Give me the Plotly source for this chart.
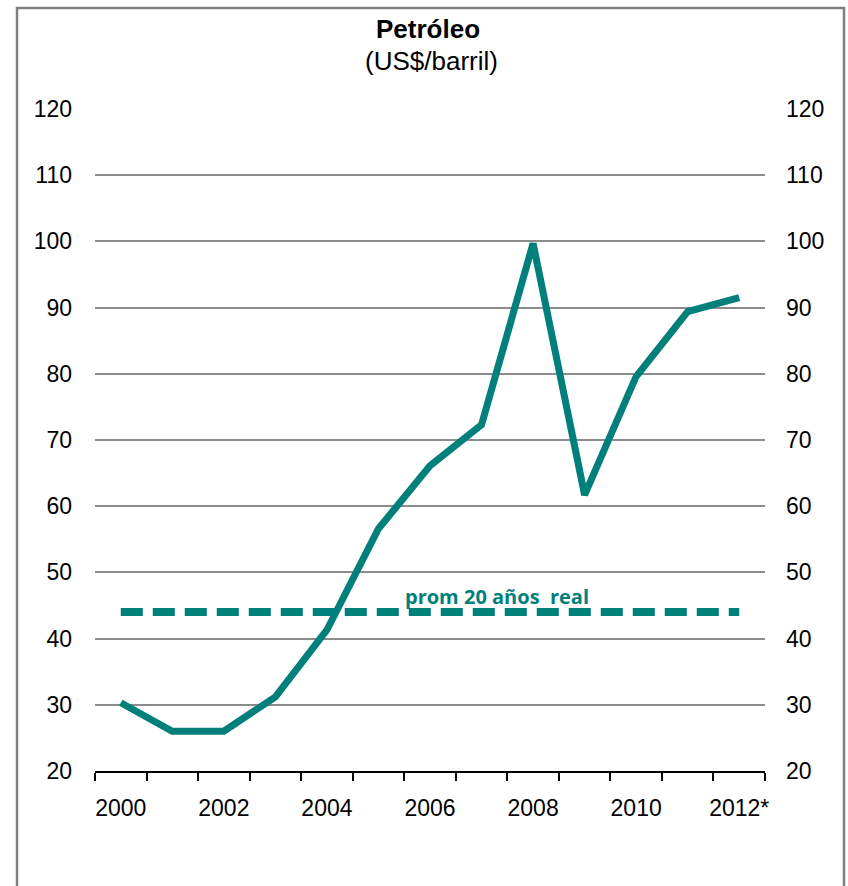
import plotly.graph_objects as go

years = ["2000", "2001", "2002", "2003", "2004", "2005", "2006",
         "2007", "2008", "2009", "2010", "2011", "2012*"]
precio = [30.3, 26.0, 26.0, 31.2, 41.3, 56.6, 66.1, 72.3, 99.7, 61.7, 79.6, 89.4, 91.5]
promedio_20 = [44.0] * len(years)
label_years = ["2000", "2002", "2004", "2006", "2008", "2010", "2012*"]
y_ticks = [20, 30, 40, 50, 60, 70, 80, 90, 100, 110, 120]

TEAL = "#007F7B"
idx = list(range(len(years)))

# plot area in page pixels
PL, PR, PT, PB = 95, 765, 109, 771
W, H = 848, 886


def py(pix):
    return (PB - pix) / (PB - PT)


def px(pix):
    return (pix - PL) / (PR - PL)


fig = go.Figure()
fig.add_trace(go.Scatter(
    x=idx, y=promedio_20, mode="lines", yaxis="y2",
    line=dict(color=TEAL, width=8, dash="22px,10px"),
    hoverinfo="skip", showlegend=False))
fig.add_trace(go.Scatter(
    x=idx, y=precio, mode="lines",
    line=dict(color=TEAL, width=7),
    showlegend=False))

tickfont = dict(family="Liberation Sans, Arial, sans-serif", size=23, color="#000")
titlefont = dict(family="Liberation Sans, Arial, sans-serif", size=26, color="#000")

fig.update_layout(
    width=W, height=H,
    margin=dict(l=PL, r=W - PR, t=PT, b=H - PB),
    paper_bgcolor="white", plot_bgcolor="white",
    xaxis=dict(
        range=[-0.5, len(years) - 0.5],
        tickvals=[years.index(l) for l in label_years],
        ticktext=label_years,
        ticks="", showgrid=False, zeroline=False,
        showline=True, linecolor="#000", linewidth=1.5,
        tickfont=tickfont, ticklabelstandoff=16,
        minor=dict(tickvals=[i - 0.5 for i in range(len(years) + 1)],
                   ticks="outside", ticklen=8, tickcolor="#000", tickwidth=1.5,
                   showgrid=False),
    ),
    yaxis=dict(
        range=[20, 120], tickvals=y_ticks,
        showgrid=True, gridcolor="#8c8c8c", gridwidth=1.5,
        zeroline=False, showline=False, ticks="",
        tickfont=tickfont, ticklabelstandoff=22,
    ),
    yaxis2=dict(
        range=[20, 120], tickvals=y_ticks, overlaying="y", side="right",
        showgrid=False, zeroline=False, showline=False, ticks="",
        tickfont=tickfont, ticklabelstandoff=20,
    ),
    annotations=[
        dict(x=px(428), y=py(29), xref="paper", yref="paper",
             text="<b>Petróleo</b>", showarrow=False, font=titlefont,
             xanchor="center", yanchor="middle"),
        dict(x=px(431), y=py(61), xref="paper", yref="paper",
             text="(US$/barril)", showarrow=False, font=titlefont,
             xanchor="center", yanchor="middle"),
        dict(x=7.3, y=46.3, xref="x", yref="y", text="<b>prom 20 años  real</b>",
             showarrow=False,
             font=dict(family="Open Sans, sans-serif", size=20, color=TEAL)),
    ],
    shapes=[dict(
        type="rect", xref="paper", yref="paper",
        x0=px(17), x1=px(844),
        y0=py(H + 20), y1=py(8),
        line=dict(color="#808080", width=2.5), fillcolor="rgba(0,0,0,0)", layer="below")],
)

fig.write_html("out.html", config={"displayModeBar": False},
               post_script="document.body.style.margin='0px';")
